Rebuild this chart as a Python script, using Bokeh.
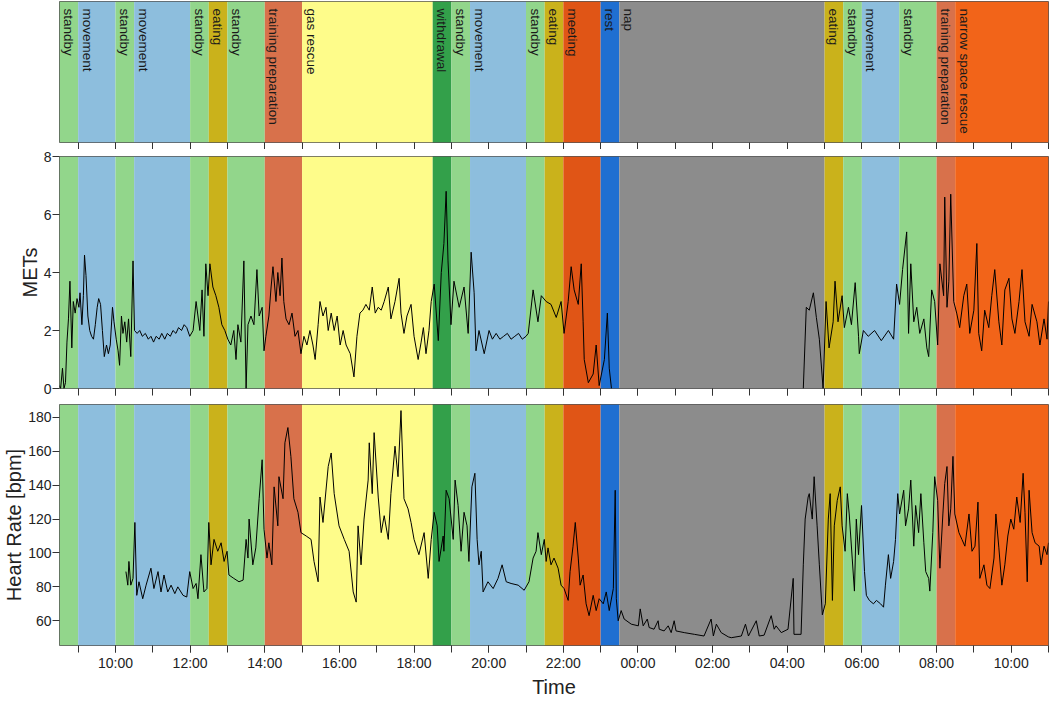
import math
from bokeh.plotting import figure
from bokeh.models import FixedTicker, Range1d, ColumnDataSource
from bokeh.layouts import column
from bokeh.embed import file_html
from bokeh.resources import INLINE
from bokeh.core.properties import value

NAN = float("nan")

# ---- activity segments (hours since midnight of day 1) ----
seg_start = [8.5, 9.0, 10.0, 10.5, 12.0, 12.5, 13.0, 14.0, 15.0, 18.5, 19.0, 19.5,
             21.0, 21.5, 22.0, 23.0, 23.5, 29.0, 29.5, 30.0, 31.0, 32.0, 32.5]
seg_end = [9.0, 10.0, 10.5, 12.0, 12.5, 13.0, 14.0, 15.0, 18.5, 19.0, 19.5, 21.0,
           21.5, 22.0, 23.0, 23.5, 29.0, 29.5, 30.0, 31.0, 32.0, 32.5, 35.0]
seg_label = ["standby", "movement", "standby", "movement", "standby", "eating",
             "standby", "training preparation", "gas rescue", "withdrawal",
             "standby", "movement", "standby", "eating", "meeting", "rest", "nap",
             "eating", "standby", "movement", "standby", "training preparation",
             "narrow space rescue"]
activity_colors = {
    "standby": "#92d68b",
    "movement": "#8dbedd",
    "eating": "#cab21b",
    "training preparation": "#d8714b",
    "gas rescue": "#fefc8a",
    "withdrawal": "#33a04a",
    "meeting": "#e05516",
    "rest": "#1f6fd1",
    "nap": "#8c8c8c",
    "narrow space rescue": "#f26419",
}
seg_color = [activity_colors[s] for s in seg_label]

# ---- x ticks ----
tick_hours = [10, 12, 14, 16, 18, 20, 22, 24, 26, 28, 30, 32, 34]
tick_labels = ["10:00", "12:00", "14:00", "16:00", "18:00", "20:00", "22:00",
               "00:00", "02:00", "04:00", "06:00", "08:00", "10:00"]
minor_hours = list(range(9, 36))

# ---- METs series ----
met_time = [
    8.50, 8.53, 8.58, 8.62, 8.66, 8.70, 8.74, 8.78, 8.83, 8.87,
    8.92, 8.97, 9.02, 9.05, 9.10, 9.14, 9.17, 9.21, 9.26, 9.31,
    9.36, 9.41, 9.46, 9.51, 9.55, 9.60, 9.65, 9.70, 9.76, 9.81,
    9.86, 9.92, 9.96, 10.02, 10.07, 10.11, 10.16, 10.20, 10.25, 10.30,
    10.35, 10.41, 10.47, 10.51, 10.58, 10.65, 10.72, 10.80, 10.88, 10.95,
    11.02, 11.09, 11.17, 11.24, 11.32, 11.39, 11.47, 11.54, 11.62, 11.69,
    11.77, 11.84, 11.91, 11.99, 12.08, 12.16, 12.21, 12.26, 12.32, 12.37,
    12.42, 12.48, 12.53, 12.61, 12.69, 12.77, 12.85, 12.93, 13.01, 13.09,
    13.17, 13.23, 13.28, 13.36, 13.44, 13.50, 13.55, 13.63, 13.71, 13.79,
    13.85, 13.93, 13.98, 14.03, 14.11, 14.17, 14.22, 14.30, 14.35, 14.41,
    14.46, 14.51, 14.57, 14.65, 14.73, 14.81, 14.89, 14.97, 15.05, 15.13,
    15.21, 15.29, 15.35, 15.43, 15.48, 15.56, 15.64, 15.70, 15.78, 15.86,
    15.94, 16.02, 16.10, 16.18, 16.29, 16.39, 16.47, 16.55, 16.63, 16.71,
    16.80, 16.88, 16.96, 17.04, 17.12, 17.20, 17.31, 17.38, 17.49, 17.60,
    17.65, 17.73, 17.81, 17.92, 18.00, 18.11, 18.19, 18.25, 18.32, 18.40,
    18.46, 18.54, 18.65, 18.73, 18.80, 18.86, 18.91, 18.99, 19.07, 19.21,
    19.34, 19.45, 19.53, 19.61, 19.66, 19.74, 19.88, 20.01, 20.10, 20.20,
    20.30, 20.40, 20.50, 20.60, 20.70, 20.80, 20.90, 21.00, 21.06, 21.19,
    21.32, 21.41, 21.54, 21.67, 21.81, 21.94, 22.02, 22.13, 22.21, 22.29,
    22.40, 22.48, 22.53, 22.56, 22.67, 22.80, 22.88, 22.96, 23.10, 23.18,
    23.23, 23.29, 23.40, 28.43, 28.51, 28.59, 28.70, 28.78, 28.86, 28.96,
    29.04, 29.12, 29.23, 29.28, 29.36, 29.47, 29.53, 29.64, 29.72, 29.82,
    29.91, 29.93, 30.04, 30.17, 30.34, 30.52, 30.71, 30.85, 30.93, 31.01,
    31.09, 31.20, 31.25, 31.31, 31.39, 31.47, 31.55, 31.66, 31.74, 31.79,
    31.87, 31.95, 32.03, 32.09, 32.19, 32.22, 32.28, 32.33, 32.38, 32.46,
    32.54, 32.62, 32.73, 32.81, 32.89, 33.00, 33.08, 33.13, 33.21, 33.29,
    33.40, 33.48, 33.56, 33.67, 33.75, 33.83, 33.94, 34.02, 34.10, 34.21,
    34.29, 34.37, 34.48, 34.56, 34.69, 34.77, 34.88, 34.96, 35.00,
]
met_value = [
    0.1, 0.0, 0.7, 0.0, 0.2, 1.6, 2.4, 3.7, 1.4, 3.0,
    2.6, 3.1, 2.8, 3.3, 2.2, 3.2, 4.6, 3.9, 2.5, 2.0,
    1.8, 1.7, 2.2, 2.8, 3.1, 2.9, 2.0, 1.1, 1.5, 1.2,
    1.5, 2.8, 2.3, 1.7, 1.3, 0.8, 2.5, 1.9, 2.3, 1.6,
    2.4, 1.1, 4.4, 2.0, 1.9, 2.0, 1.8, 1.9, 1.7, 1.8,
    1.6, 1.8, 1.7, 1.9, 1.7, 1.9, 1.8, 2.0, 1.9, 2.1,
    2.0, 2.2, 2.1, 1.8, 2.0, 3.0, 2.5, 2.0, 3.4, 1.8,
    4.3, 3.2, 4.3, 3.5, 3.2, 2.8, 2.2, 2.0, 1.7, 1.5,
    2.0, 1.0, 2.2, 1.6, 4.4, 0.0, 2.2, 2.5, 2.2, 4.1,
    2.5, 2.8, 1.3, 1.8, 2.5, 3.5, 4.2, 3.0, 4.0, 3.2,
    4.5, 3.0, 2.4, 2.2, 2.6, 1.8, 2.0, 1.2, 1.8, 1.5,
    2.0, 1.5, 1.0, 2.2, 3.0, 2.5, 2.8, 2.0, 2.6, 2.0,
    2.5, 1.5, 2.0, 1.5, 1.2, 0.4, 1.8, 2.6, 2.7, 2.9,
    2.7, 3.5, 2.6, 2.8, 2.7, 3.0, 3.5, 2.4, 3.0, 3.8,
    2.6, 1.9, 2.5, 2.9, 1.8, 1.0, 1.6, 2.1, 1.2, 2.0,
    3.0, 3.6, 1.65, 4.0, 5.0, 6.8, 4.4, 2.2, 3.7, 2.8,
    3.5, 1.9, 4.7, 3.3, 1.3, 2.0, 1.2, 2.0, 1.7, 1.9,
    1.7, 1.8, 1.9, 1.7, 1.8, 1.9, 1.7, 1.8, 1.9, 3.4,
    2.3, 3.2, 3.0, 2.9, 2.45, 3.0, 1.9, 3.0, 4.2, 3.4,
    2.9, 4.3, 2.3, 1.0, 0.2, 0.5, 1.5, 0.1, 1.0, 2.6,
    0.7, 0.0, NAN, 0.0, 2.8, 2.7, 3.3, 2.45, 1.7, 0.0,
    3.0, 1.4, 2.3, 3.7, 2.3, 3.2, 2.1, 2.8, 2.2, 3.65,
    1.8, 1.2, 2.0, 1.8, 2.0, 1.65, 2.0, 1.7, 3.6, 2.9,
    4.1, 5.4, 1.9, 4.3, 2.3, 2.8, 1.9, 2.4, 1.4, 1.1,
    3.4, 3.0, 1.5, 4.3, 3.2, 6.6, 2.8, 3.7, 6.7, 3.0,
    2.6, 2.1, 3.2, 3.6, 1.9, 2.7, 5.0, 1.9, 1.3, 2.7,
    2.1, 3.2, 4.1, 2.3, 1.5, 3.4, 3.8, 2.4, 1.9, 3.0,
    4.1, 2.3, 1.8, 2.9, 2.3, 1.5, 2.4, 1.7, 3.0,
]

# ---- Heart rate series ----
hr_time = [
    10.28, 10.33, 10.36, 10.41, 10.47, 10.52, 10.57, 10.63, 10.73, 10.82,
    10.95, 11.03, 11.14, 11.22, 11.30, 11.40, 11.49, 11.59, 11.67, 11.81,
    11.91, 11.99, 12.08, 12.16, 12.21, 12.29, 12.37, 12.45, 12.50, 12.56,
    12.64, 12.74, 12.83, 12.91, 12.99, 13.04, 13.17, 13.31, 13.42, 13.50,
    13.55, 13.58, 13.68, 13.76, 13.85, 13.93, 13.98, 14.06, 14.11, 14.19,
    14.25, 14.35, 14.38, 14.49, 14.54, 14.62, 14.70, 14.78, 14.89, 14.97,
    15.11, 15.24, 15.32, 15.43, 15.48, 15.56, 15.70, 15.78, 15.86, 15.99,
    16.13, 16.26, 16.37, 16.45, 16.50, 16.58, 16.66, 16.77, 16.80, 16.88,
    16.93, 17.04, 17.12, 17.20, 17.31, 17.38, 17.49, 17.57, 17.65, 17.73,
    17.84, 17.92, 18.00, 18.13, 18.27, 18.38, 18.46, 18.54, 18.62, 18.67,
    18.78, 18.80, 18.86, 18.94, 19.05, 19.10, 19.18, 19.26, 19.34, 19.42,
    19.47, 19.55, 19.63, 19.69, 19.74, 19.80, 19.85, 19.98, 20.12, 20.25,
    20.36, 20.47, 20.60, 20.79, 20.95, 21.08, 21.19, 21.27, 21.32, 21.41,
    21.49, 21.54, 21.59, 21.67, 21.75, 21.86, 21.94, 22.02, 22.13, 22.18,
    22.26, 22.32, 22.40, 22.45, 22.53, 22.61, 22.69, 22.80, 22.88, 22.96,
    23.07, 23.15, 23.23, 23.34, 23.39, 23.42, 23.47, 23.55, 23.63, 23.82,
    24.01, 24.06, 24.14, 24.25, 24.30, 24.43, 24.54, 24.57, 24.70, 24.81,
    24.89, 24.97, 25.02, 25.24, 25.51, 25.77, 25.96, 26.02, 26.10, 26.23,
    26.42, 26.50, 26.77, 26.88, 26.96, 27.17, 27.25, 27.38, 27.57, 27.65,
    27.70, 27.84, 28.02, 28.16, 28.18, 28.37, 28.43, 28.48, 28.56, 28.59,
    28.67, 28.72, 28.80, 28.86, 28.94, 29.02, 29.10, 29.15, 29.21, 29.26,
    29.34, 29.42, 29.47, 29.55, 29.61, 29.66, 29.74, 29.80, 29.85, 29.91,
    29.99, 30.07, 30.12, 30.20, 30.31, 30.39, 30.50, 30.58, 30.63, 30.71,
    30.77, 30.85, 30.90, 30.96, 31.01, 31.12, 31.17, 31.25, 31.31, 31.39,
    31.44, 31.52, 31.58, 31.66, 31.71, 31.79, 31.82, 31.90, 31.95, 32.03,
    32.09, 32.17, 32.22, 32.28, 32.33, 32.38, 32.44, 32.49, 32.60, 32.68,
    32.76, 32.87, 32.95, 33.03, 33.11, 33.16, 33.27, 33.35, 33.43, 33.54,
    33.59, 33.67, 33.75, 33.83, 33.91, 33.99, 34.07, 34.15, 34.24, 34.32,
    34.37, 34.43, 34.48, 34.56, 34.64, 34.75, 34.80, 34.88, 34.96, 35.00,
]
hr_value = [
    89, 81, 95, 81, 85, 118, 75, 83, 73, 81,
    91, 79, 89, 77, 87, 77, 81, 76, 80, 75,
    74, 89, 79, 82, 73, 99, 77, 79, 118, 93,
    108, 101, 106, 95, 101, 87, 85, 83, 84, 108,
    97, 120, 93, 103, 132, 155, 114, 97, 106, 93,
    139, 116, 145, 132, 165, 174, 157, 132, 124, 112,
    110, 108, 95, 83, 133, 118, 151, 159, 135, 116,
    108, 101, 77, 71, 116, 93, 120, 143, 165, 135,
    171, 133, 112, 122, 108, 135, 163, 145, 184, 132,
    126, 118, 108, 99, 112, 85, 108, 124, 116, 95,
    110, 101, 137, 132, 108, 143, 128, 101, 124, 116,
    95, 139, 147, 108, 93, 101, 77, 83, 79, 85,
    93, 83, 82, 81, 78, 83, 97, 101, 112, 99,
    108, 95, 103, 93, 97, 91, 81, 79, 72, 89,
    104, 118, 97, 81, 87, 70, 63, 75, 66, 73,
    70, 77, 66, 79, 137, 73, 60, 66, 61, 58,
    57, 67, 57, 61, 56, 55, 60, 55, 54, 57,
    53, 60, 54, 53, 52, 51, 61, 51, 58, 53,
    50.5, 50, 51, 58, 51, 60, 51, 51.5, 63, 55,
    57, 53, 55, 85, 52, 52, 93, 120, 133, 135,
    120, 145, 116, 93, 63.5, 70, 120, 135, 72, 116,
    131, 139, 116, 101, 135, 123, 97, 77.5, 120, 99,
    128, 89, 75, 72, 70, 72, 70, 68, 81, 99,
    85, 95, 108, 135, 123, 137, 116, 126, 143, 104,
    128, 112, 135, 106, 89, 85, 77.5, 112, 145, 131,
    91, 123, 141, 151, 116, 126, 157, 123, 112, 108,
    104, 123, 101, 104, 130, 85, 93, 81, 79, 97,
    123, 103, 81, 93, 110, 120, 114, 133, 118, 147,
    124, 83, 137, 112, 106, 104, 93, 104, 99, 106,
]

FONT = "Liberation Sans"
W = 1050
LEFT = 59
x_range = Range1d(8.5, 35.0)


def base_fig(height, y_range, top, bottom, standoff):
    p = figure(width=W, height=height, x_range=x_range, y_range=y_range,
               output_backend="svg", toolbar_location=None, tools="",
               min_border_left=LEFT, min_border_right=2,
               min_border_top=top, min_border_bottom=bottom)
    p.xgrid.visible = False
    p.ygrid.visible = False
    p.outline_line_color = "#555555"
    p.outline_line_width = 1
    p.background_fill_color = "white"
    p.border_fill_color = "white"
    src = ColumnDataSource(dict(left=seg_start, right=seg_end, color=seg_color))
    p.quad(left="left", right="right", bottom=y_range.start, top=y_range.end,
           fill_color="color", line_color=None, source=src)
    ax = p.xaxis[0]
    ax.ticker = FixedTicker(ticks=tick_hours, minor_ticks=minor_hours)
    ax.axis_line_color = None
    ax.major_tick_line_color = "#333333"
    ax.minor_tick_line_color = "#333333"
    ax.major_tick_in = 0
    ax.major_tick_out = 7
    ax.minor_tick_in = 0
    ax.minor_tick_out = 7
    ax.major_label_text_font = FONT
    ax.major_label_text_font_size = "14px"
    ax.major_label_text_color = "#222222"
    ax.major_label_standoff = standoff
    return p


def style_y(p, ticks, label):
    ay = p.yaxis[0]
    ay.ticker = FixedTicker(ticks=ticks)
    ay.axis_line_color = None
    ay.major_tick_line_color = "#333333"
    ay.major_tick_in = 0
    ay.major_tick_out = 7
    ay.minor_tick_line_color = None
    ay.major_label_text_font = FONT
    ay.major_label_text_font_size = "14px"
    ay.major_label_text_color = "#222222"
    ay.major_label_standoff = 1
    ay.axis_label = label
    ay.axis_label_text_font = FONT
    ay.axis_label_text_font_size = "20px"
    ay.axis_label_text_font_style = "normal"
    ay.axis_label_text_color = "#222222"
    ay.axis_label_standoff = 0


# ---- top: activity label panel ----
p1 = base_fig(149, Range1d(0, 1), 1, 7, 0)
p1.yaxis.visible = False
p1.xaxis.major_label_overrides = {t: "" for t in tick_hours}
lab_src = ColumnDataSource(dict(x=seg_start, y=[1] * len(seg_start), text=seg_label))
p1.text(x="x", y="y", text="text", source=lab_src, angle=-math.pi / 2,
        text_align="left", text_baseline="middle", x_offset=9, y_offset=7,
        text_font=value(FONT), text_font_size="13.5px", text_color="#1a1a1a")

# ---- middle: METs ----
p2 = base_fig(247, Range1d(0, 8), 7, 8, 0)
p2.xaxis.major_label_overrides = {t: "" for t in tick_hours}
style_y(p2, [0, 2, 4, 6, 8], "METs")
p2.line(met_time, met_value, line_color="black", line_width=1)

# ---- bottom: heart rate ----
p3 = base_fig(304, Range1d(45.4, 187.6), 8, 52, 2)
p3.xaxis.major_label_overrides = dict(zip(tick_hours, tick_labels))
p3.xaxis.axis_label = "Time"
p3.xaxis.axis_label_text_font = FONT
p3.xaxis.axis_label_text_font_size = "20px"
p3.xaxis.axis_label_text_font_style = "normal"
p3.xaxis.axis_label_text_color = "#222222"
p3.xaxis.axis_label_standoff = 2
style_y(p3, [60, 80, 100, 120, 140, 160, 180], "Heart Rate [bpm]")
p3.line(hr_time, hr_value, line_color="black", line_width=1)

layout = column(p1, p2, p3, spacing=0)
open("out.html", "w").write(file_html(layout, INLINE))
